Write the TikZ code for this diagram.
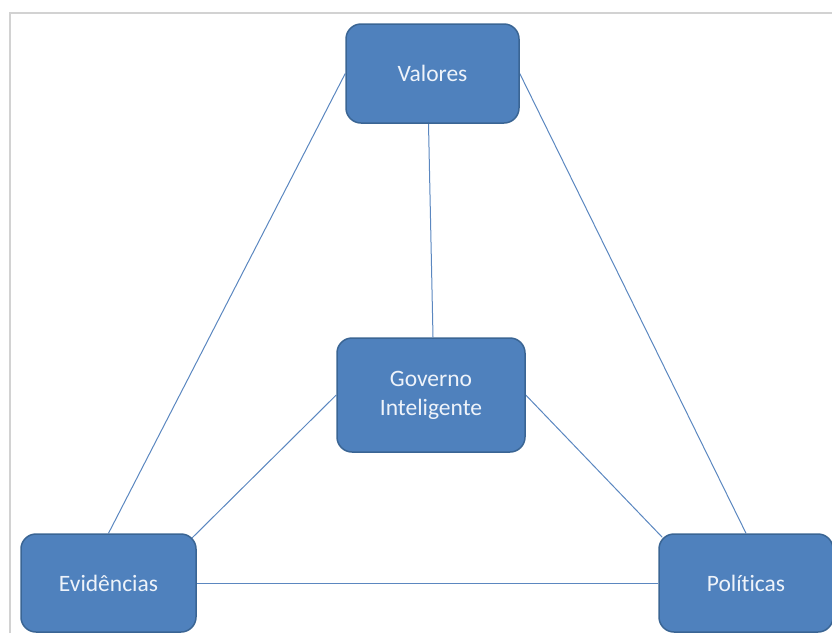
\documentclass[tikz,border=0pt]{standalone}
\usepackage{fontspec}
\setmainfont[Ligatures=NoCommon]{Carlito}
\usetikzlibrary{backgrounds,calc}
\definecolor{boxfill}{HTML}{4F81BD}
\definecolor{boxedge}{HTML}{3A6594}
\definecolor{boxtext}{HTML}{EEF3FA}
\definecolor{linkcol}{HTML}{5B87C0}
\definecolor{framecol}{HTML}{D2D2D2}
\tikzset{
  concept/.style={draw=boxedge, line width=1.5pt, fill=boxfill, rounded corners=15pt,
    text=boxtext, font=\fontsize{23.5}{29}\selectfont, align=center,
    inner sep=0pt, minimum height=98pt},
  link/.style={draw=linkcol, line width=1pt},
}
\begin{document}
\begin{tikzpicture}[x=1pt,y=-1pt]
  \useasboundingbox (0,0) rectangle (832,633);
  \clip (0,0) rectangle (832,633);
  % frame edges
  \draw[framecol, line width=1.5pt] (10,633) -- (10,13) -- (832,13);

  % concept boxes
  \node[concept, minimum width=173pt, minimum height=99pt] (val) at (432.5,73.5) {Valores};
  \node[concept, minimum width=188pt, minimum height=114pt] (gov) at (431,395) {Governo\\Inteligente};
  \node[concept, minimum width=175pt] (evi) at (108.5,583) {Evidências};
  \node[concept, minimum width=174pt] (pol) at (746,583) {Políticas};

  % connectors
  \begin{scope}[on background layer]
    \draw[link] (val.west) -- (evi.north);
    \draw[link] (val.east) -- (pol.north);
    \draw[link] ($(val.south)+(-4,0)$) -- ($(gov.north)+(2,0)$);
    \draw[link] (gov.west) -- ($(evi.north east)+(-5,5)$);
    \draw[link] (gov.east) -- ($(pol.north west)+(4,4)$);
    \draw[link] (evi.east) -- (pol.west);
  \end{scope}
\end{tikzpicture}
\end{document}
